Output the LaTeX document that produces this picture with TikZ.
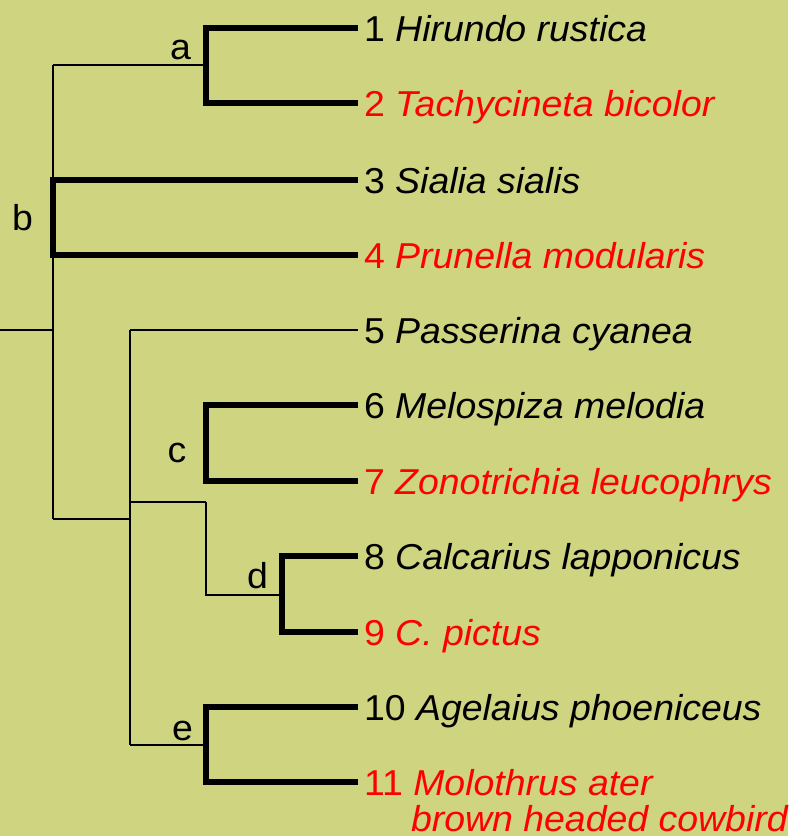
\documentclass[tikz,border=0pt]{standalone}
\usepackage{fontspec}
\setmainfont{Liberation Sans}[FakeStretch=1.04]
\definecolor{fondo}{RGB}{206,212,128}
\definecolor{rojo}{RGB}{255,0,0}

\begin{document}
\begin{tikzpicture}[x=1pt, y=-1pt, line width=2pt,
  rama/.style={line width=5.5pt, line join=miter},
  hoja/.style={anchor=base west, inner sep=0pt, font=\fontsize{36}{37}\selectfont},
  letra/.style={anchor=base, inner sep=0pt, font=\fontsize{36}{37}\selectfont}]
  % fondo
  \fill[fondo] (0,0) rectangle (788,836);
  \useasboundingbox (0,0) rectangle (788,836);
  % puntas de las ramas
  \foreach \i/\y in {1/28,2/103,3/180,4/255,5/330,6/405,7/481,8/556,9/632,10/707,11/782}
    \coordinate (t\i) at (358,\y);
  % nudos internos
  \coordinate (raiz) at (0,330);
  \coordinate (ka) at (206,65);  \coordinate (kb) at (53,217);
  \coordinate (kc) at (206,443); \coordinate (kd) at (282,595);
  \coordinate (ke) at (206,745);
  \coordinate (ja) at (53,65);   \coordinate (jr) at (53,330);
  \coordinate (jb) at (53,519);  \coordinate (j5) at (130,330);
  \coordinate (jm) at (130,519); \coordinate (jc) at (130,502);
  \coordinate (je) at (130,745); \coordinate (kc0) at (206,502);
  \coordinate (kc1) at (206,595);
  % lineas finas
  \draw (raiz) -- (jr);
  \draw (ja) -- (jb);
  \draw (ja) -- (ka);
  \draw (jb) -- (jm);
  \draw (j5) -- (je);
  \draw (j5) -- (t5);
  \draw (jc) -- (kc0);
  \draw (kc0) -- (kc1) -- (kd);
  \draw (je) -- (ke);
  % clados gruesos
  \draw[rama] (t1) -| (ka) |- (t2);
  \draw[rama] (t3) -| (kb) |- (t4);
  \draw[rama] (t6) -| (kc) |- (t7);
  \draw[rama] (t8) -| (kd) |- (t9);
  \draw[rama] (t10) -| (ke) |- (t11);
  % nombres de especies
  \node[hoja] (n1) at (363,41) {1 \textit{Hirundo rustica}};
  \node[hoja, text=rojo] (n2) at (363,116) {2 \textit{Tachycineta bicolor}};
  \node[hoja] (n3) at (363,193) {3 \textit{Sialia sialis}};
  \node[hoja, text=rojo] (n4) at (363,268) {4 \textit{Prunella modularis}};
  \node[hoja] (n5) at (363,343) {5 \textit{Passerina cyanea}};
  \node[hoja] (n6) at (363,418) {6 \textit{Melospiza melodia}};
  \node[hoja, text=rojo] (n7) at (363,494) {7 \textit{Zonotrichia leucophrys}};
  \node[hoja] (n8) at (363,569) {8 \textit{Calcarius lapponicus}};
  \node[hoja, text=rojo] (n9) at (363,645) {9 \textit{C. pictus}};
  \node[hoja] (n10) at (363,720) {10 \textit{Agelaius phoeniceus}};
  \node[hoja, text=rojo] (n11) at (363,795) {11 \textit{Molothrus ater}};
  \node[hoja, text=rojo] (n11b) at (410,831) {\textit{brown headed cowbird}};
  % letras de los nudos
  \node[letra] (la) at (180.5,59) {a};
  \node[letra] (lb) at (22.5,230) {b};
  \node[letra] (lc) at (177,462) {c};
  \node[letra] (ld) at (257.5,588) {d};
  \node[letra] (le) at (182.5,740) {e};
\end{tikzpicture}
\end{document}
